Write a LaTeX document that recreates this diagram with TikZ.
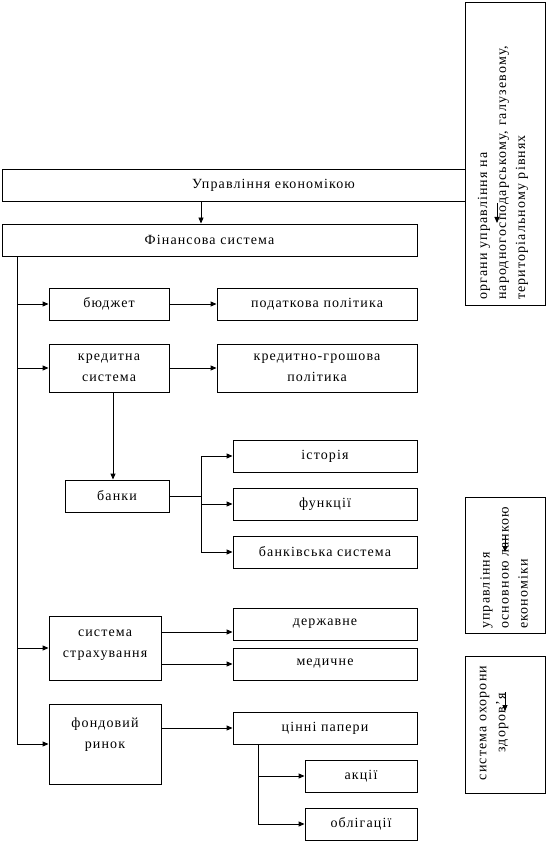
\documentclass[tikz,border=0pt]{standalone}
\usepackage{fontspec}
\setmainfont{Liberation Serif}[LetterSpace=8]
\usetikzlibrary{arrows.meta}
\begin{document}
\begin{tikzpicture}[x=1pt,y=-1pt,
  box/.style={draw, line width=0.9pt, fill=white, inner sep=0pt, align=center,
    font=\fontsize{14}{21}\selectfont},
  rtext/.style={inner sep=0pt, rotate=90, font=\fontsize{14}{19}\selectfont},
  arr/.style={-{Triangle[length=6pt,width=5pt]}, line width=0.9pt},
  ln/.style={line width=0.9pt}]
\useasboundingbox (0,0) rectangle (546,842);
% top level
\node[box, minimum width=543, minimum height=32] (top) at (273.5,185) {Управління економікою};
\node[box, minimum width=415, minimum height=32] (fin) at (209.5,240) {Фінансова система};
% right-hand boxes
\node[box, minimum width=80, minimum height=303] (r1) at (505,153.5) {};
\node[rtext, anchor=west, align=left] (r1t) at (503,300) {органи управління на\\народногосподарському, галузевому,\\територіальному рівнях};
\node[box, minimum width=80, minimum height=136] (r2) at (505,565) {};
\node[rtext, anchor=west, align=left] (r2t) at (504,629) {управління\\основною ланкою\\економіки};
\node[box, minimum width=80, minimum height=137] (r3) at (505,724.5) {};
\node[rtext, align=center] (r3t) at (494,723) {система охорони\\здоров’я};
% stray arrows inside the right boxes
\coordinate (s1a) at (497,203); \coordinate (s1b) at (497,223);
\coordinate (s2a) at (505,536); \coordinate (s2b) at (505,552);
\coordinate (s3a) at (505,692); \coordinate (s3b) at (505,711);
\draw[arr] (s1a) -- (s1b);
\draw[arr] (s2a) -- (s2b);
\draw[arr] (s3a) -- (s3b);
% second level
\node[box, minimum width=120, minimum height=32] (budg) at (109,304) {бюджет};
\node[box, minimum width=200, minimum height=32] (tax) at (317,304) {податкова політика};
\node[box, minimum width=120, minimum height=48] (cred) at (109,368) {кредитна\\система};
\node[box, minimum width=200, minimum height=48] (mon) at (317,368) {кредитно-грошова\\політика};
\node[box, minimum width=104, minimum height=32] (bank) at (117,496) {банки};
\node[box, minimum width=184, minimum height=32] (hist) at (325,456) {історія};
\node[box, minimum width=184, minimum height=32] (func) at (325,504) {функції};
\node[box, minimum width=184, minimum height=32] (bsys) at (325,552) {банківська система};
\node[box, minimum width=112, minimum height=64] (ins) at (105,648) {система\\страхування\\[-13pt]\mbox{}};
\node[box, minimum width=184, minimum height=32] (state) at (325,624) {державне};
\node[box, minimum width=184, minimum height=32] (med) at (325,664) {медичне};
\node[box, minimum width=112, minimum height=80] (fond) at (105,744) {фондовий\\ринок\\\mbox{}};
\node[box, minimum width=184, minimum height=32] (cp) at (325,728) {цінні папери};
\node[box, minimum width=112, minimum height=32] (akc) at (361,776) {акції};
\node[box, minimum width=112, minimum height=32] (obl) at (361,824) {облігації};
% helper x positions
\coordinate (xa) at (201,0);
\coordinate (bus) at (17,0);
\coordinate (xc) at (113,0);
\coordinate (xb) at (201,0);
\coordinate (xd) at (258,0);
\coordinate (y1) at (0,632);
\coordinate (y2) at (0,664);
\coordinate (y3) at (0,728);
% connectors
\draw[arr] (top.south -| xa) -- (fin.north -| xa);
\draw[ln] (fin.south -| bus) -- (fond.west -| bus);
\draw[arr] (budg.west -| bus) -- (budg.west);
\draw[arr] (cred.west -| bus) -- (cred.west);
\draw[arr] (ins.west -| bus) -- (ins.west);
\draw[arr] (fond.west -| bus) -- (fond.west);
\draw[arr] (budg.east) -- (tax.west);
\draw[arr] (cred.east) -- (mon.west);
\draw[arr] (cred.south -| xc) -- (bank.north -| xc);
\draw[ln] (bank.east) -- (bank.east -| xb);
\draw[ln] (hist.west -| xb) -- (bsys.west -| xb);
\draw[arr] (hist.west -| xb) -- (hist.west);
\draw[arr] (func.west -| xb) -- (func.west);
\draw[arr] (bsys.west -| xb) -- (bsys.west);
\draw[arr] (ins.east |- y1) -- (state.west |- y1);
\draw[arr] (ins.east |- y2) -- (med.west |- y2);
\draw[arr] (fond.east |- y3) -- (cp.west);
\draw[ln] (cp.south -| xd) -- (obl.west -| xd);
\draw[arr] (akc.west -| xd) -- (akc.west);
\draw[arr] (obl.west -| xd) -- (obl.west);
\end{tikzpicture}
\end{document}
